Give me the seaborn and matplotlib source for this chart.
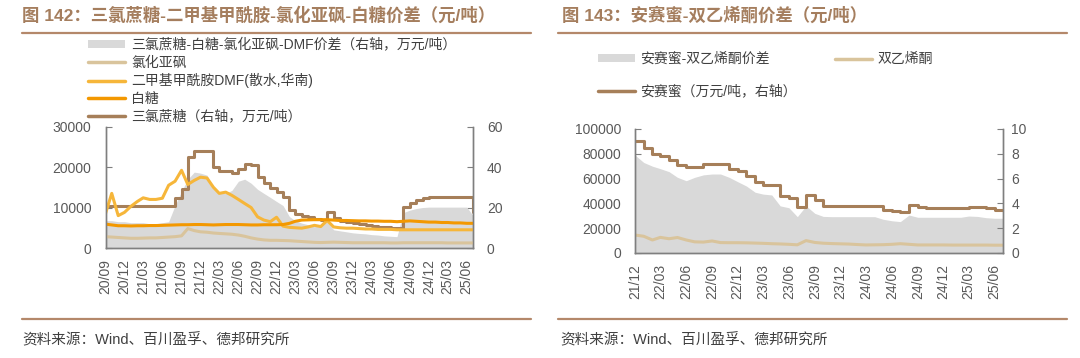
import matplotlib
matplotlib.use("Agg")
import matplotlib.pyplot as plt
import matplotlib.dates as mdates
from matplotlib.lines import Line2D
from matplotlib.patches import Patch
import seaborn as sns
import pandas as pd

sns.set_theme(style="white")
plt.rcParams['font.family'] = ['Liberation Sans', 'Noto Sans CJK SC', 'DejaVu Sans']
plt.rcParams['axes.unicode_minus'] = False

# ---- 图142 数据 (月度, 2020/09 - 2025/07) ----
months_142 = pd.date_range("2020-09-01", "2025-07-01", freq="MS")
sucralose = [21, 21, 21, 21, 21, 21, 21, 21, 21, 21, 21,
             24.5, 29, 45, 48, 48, 48, 40, 38, 38, 37,
             39, 41.5, 41, 35, 32, 29.5, 27.5, 25, 19, 17,
             16, 15.4, 14.5, 13.8, 18, 15, 13.5, 13, 12.5, 12,
             11.5, 11, 10.5, 10.2, 10, 9.8, 20.5, 22, 23.6, 24.5,
             25.3, 25.3, 25.3, 25.3, 25.3, 25.3, 25.3, 18]
spread_142 = [13.5, 13.5, 13, 13, 12.5, 12.5, 12.5, 12, 12, 12.5, 13,
              21, 28, 34, 37.5, 37, 36, 30, 27, 27, 28.5,
              33, 34, 32, 29, 27, 25, 23, 21, 15.5, 13.5,
              12.3, 11.5, 10.5, 11.5, 13, 9, 8.5, 8, 7.5, 7.2,
              7, 6.6, 6.4, 6, 5.8, 5.6, 17.5, 18.7, 19.5, 20,
              20.2, 20.2, 20.2, 20.2, 20.2, 20.2, 20.2, 16]
sugar = [5900, 5700, 5500, 5500, 5450, 5500, 5500, 5550, 5550, 5600, 5650,
         5700, 5750, 5750, 5800, 5800, 5750, 5700, 5750, 5800, 5800,
         5800, 5750, 5700, 5700, 5750, 5750, 5750, 5800, 6100, 6600,
         6900, 6950, 7000, 7000, 7000, 6900, 6800, 6800, 6750, 6700,
         6700, 6650, 6650, 6600, 6600, 6500, 6600, 6700, 6600, 6500,
         6400, 6400, 6300, 6300, 6200, 6200, 6100, 6100]
dmf = [8500, 13500, 8000, 8800, 10300, 11500, 12400, 12000, 12000, 12300, 15500,
       16500, 19200, 15700, 16700, 17500, 17300, 15000, 13500, 13800, 13000,
       12000, 11000, 10000, 7700, 6900, 6500, 7600, 5400, 5100, 5000,
       4900, 5200, 5600, 5300, 6800, 5200, 5000, 4900, 4900, 4800,
       4700, 4700, 4600, 4600, 4600, 4500, 4500, 4500, 4500, 4500,
       4500, 4500, 4500, 4500, 4500, 4500, 4500, 4500]
socl2 = [2800, 2700, 2600, 2500, 2400, 2400, 2450, 2500, 2500, 2600, 2700,
         2800, 3000, 4800, 4300, 4000, 3900, 3700, 3600, 3500, 3400,
         3200, 2900, 2500, 2200, 2000, 1900, 1900, 1850, 1800, 1700,
         1600, 1500, 1400, 1350, 1400, 1450, 1400, 1350, 1300, 1300,
         1300, 1300, 1300, 1300, 1250, 1250, 1300, 1300, 1300, 1300,
         1300, 1300, 1300, 1250, 1250, 1250, 1250, 1250]

# ---- 图143 数据 (月度, 2021/12 - 2025/07) ----
months_143 = pd.date_range("2021-12-01", "2025-07-01", freq="MS")
acesulfame = [9.0, 8.5, 8.0, 7.8, 7.5, 7.1, 6.96, 6.96, 7.15, 7.2,
              7.2, 6.8, 6.6, 6.2, 5.75, 5.5, 5.5, 4.6, 4.45, 3.7,
              4.7, 4.3, 3.75, 3.75, 3.75, 3.75, 3.75, 3.75, 3.75, 3.5,
              3.35, 3.3, 3.85, 3.7, 3.6, 3.6, 3.6, 3.6, 3.6, 3.73,
              3.73, 3.6, 3.47, 3.47]
spread_143 = [79000, 73000, 70000, 68000, 65600, 61000, 58300, 61000, 63000, 63700,
              63700, 61000, 57500, 54000, 49000, 47500, 46800, 38000, 36500, 29300,
              38000, 32000, 29500, 29300, 29300, 29300, 29300, 29300, 29300, 27200,
              26000, 25300, 30600, 28800, 28800, 28800, 28800, 28800, 28800, 29800,
              29500, 28500, 28000, 28000]
diketene = [14500, 13500, 10500, 12600, 11500, 12500, 10500, 9000, 8800, 9700,
            8400, 8300, 8300, 8200, 8000, 7800, 7500, 7300, 7000, 6600,
            10000, 8500, 7900, 7600, 7400, 7200, 6800, 6500, 6600, 6700,
            7000, 7500, 7000, 6500, 6500, 6500, 6500, 6400, 6400, 6400,
            6400, 6400, 6300, 6300]

GRAY = '#d9d9d9'
BEIGE = '#d9c49c'
YELLOW = '#f6b63a'
ORANGE = '#f39800'
BROWN = '#a67f59'
TITLE_C = '#a57e5e'
RULE_C = '#b4886a'
TICK_C = '#7f7f7f'
LABEL_C = '#595959'
LW = 2.2

fig = plt.figure(figsize=(10.8, 3.58), dpi=100)
W, H = 1080, 358


def fx(px):
    return px / W


def fy(py):
    return 1 - py / H


def style_axes(ax, ax2, right_pad):
    for a in (ax, ax2):
        a.spines['top'].set_visible(False)
        for s in ('left', 'right', 'bottom'):
            a.spines[s].set_color(TICK_C)
            a.spines[s].set_linewidth(1)
        a.tick_params(direction='in', length=4, width=0.8, color=TICK_C,
                      labelcolor=LABEL_C, labelsize=10)
        a.grid(False)
        a.set_xlabel('')
        a.set_ylabel('')
    ax.tick_params(axis='y', pad=10)
    ax.tick_params(axis='x', pad=8, labelrotation=90)
    ax2.tick_params(axis='y', pad=right_pad)
    ax.xaxis.set_major_locator(mdates.MonthLocator(bymonth=[3, 6, 9, 12]))
    ax.xaxis.set_major_formatter(mdates.DateFormatter('%y/%m'))


# ================= 图142 =================
ax1 = fig.add_axes([fx(105.5), fy(248), fx(473 - 105.5), (248 - 126.6) / H])
ax1r = ax1.twinx()
ax1.set_zorder(ax1r.get_zorder() + 1)
ax1.patch.set_visible(False)

ax1r.fill_between(months_142, spread_142, 0, color=GRAY, lw=0)
sns.lineplot(x=months_142, y=sucralose, ax=ax1r, color=BROWN, lw=LW,
             drawstyle='steps-post', estimator=None)
sns.lineplot(x=months_142, y=socl2, ax=ax1, color=BEIGE, lw=LW, estimator=None)
sns.lineplot(x=months_142, y=dmf, ax=ax1, color=YELLOW, lw=LW, estimator=None)
sns.lineplot(x=months_142, y=sugar, ax=ax1, color=ORANGE, lw=LW, estimator=None)

ax1.set_xlim(months_142[0], months_142[-1])
ax1.set_ylim(0, 30000)
ax1.set_yticks([0, 10000, 20000, 30000])
ax1r.set_ylim(0, 60)
ax1r.set_yticks([0, 20, 40, 60])
style_axes(ax1, ax1r, 10)

handles_142 = [
    Patch(facecolor=GRAY, edgecolor='none', label='三氯蔗糖-白糖-氯化亚砜-DMF价差（右轴，万元/吨）'),
    Line2D([], [], color=BEIGE, lw=2.5, label='氯化亚砜'),
    Line2D([], [], color=YELLOW, lw=2.5, label='二甲基甲酰胺DMF(散水,华南)'),
    Line2D([], [], color=ORANGE, lw=2.5, label='白糖'),
    Line2D([], [], color=BROWN, lw=2.5, label='三氯蔗糖（右轴，万元/吨）'),
]
fig.legend(handles=handles_142, loc='upper left', bbox_to_anchor=(fx(88), fy(38)),
           frameon=False, borderpad=0, borderaxespad=0, fontsize=10,
           handlelength=2.65, handleheight=0.5, handletextpad=0.45,
           labelspacing=0.25, labelcolor='#404040')

fig.text(fx(22), fy(15), '图 142：三氯蔗糖-二甲基甲酰胺-氯化亚砜-白糖价差（元/吨）',
         fontsize=12.5, fontweight='bold', color=TITLE_C, va='center')
fig.add_artist(Line2D([fx(22), fx(531)], [fy(33), fy(33)], color=RULE_C, lw=1.6))
fig.add_artist(Line2D([fx(22), fx(531)], [fy(319), fy(319)], color=RULE_C, lw=1.6))
fig.text(fx(22), fy(340), '资料来源：Wind、百川盈孚、德邦研究所',
         fontsize=10.5, color='#404040', va='center')

# ================= 图143 =================
ax2 = fig.add_axes([fx(635), fy(253), fx(1003 - 635), (253 - 129) / H])
ax2r = ax2.twinx()

ax2.fill_between(months_143, spread_143, 0, color=GRAY, lw=0)
sns.lineplot(x=months_143, y=diketene, ax=ax2, color=BEIGE, lw=LW, estimator=None)
sns.lineplot(x=months_143, y=acesulfame, ax=ax2r, color=BROWN, lw=LW,
             drawstyle='steps-post', estimator=None)

ax2.set_xlim(months_143[0], months_143[-1])
ax2.set_ylim(0, 100000)
ax2.set_yticks(range(0, 100001, 20000))
ax2r.set_ylim(0, 10)
ax2r.set_yticks(range(0, 11, 2))
style_axes(ax2, ax2r, 6)

handles_143 = [
    Patch(facecolor=GRAY, edgecolor='none', label='安赛蜜-双乙烯酮价差'),
    Line2D([], [], color=BROWN, lw=2.5, label='安赛蜜（万元/吨，右轴）'),
    Line2D([], [], color=BEIGE, lw=2.5, label='双乙烯酮'),
]
fig.legend(handles=handles_143, loc='upper left', bbox_to_anchor=(fx(598), fy(52)),
           ncol=2, frameon=False, borderpad=0, borderaxespad=0, fontsize=10,
           handlelength=2.65, handleheight=0.5, handletextpad=0.4,
           labelspacing=1.32, columnspacing=2.75, labelcolor='#404040')

fig.text(fx(562), fy(15), '图 143：安赛蜜-双乙烯酮价差（元/吨）',
         fontsize=12.5, fontweight='bold', color=TITLE_C, va='center')
fig.add_artist(Line2D([fx(558), fx(1067)], [fy(33), fy(33)], color=RULE_C, lw=1.6))
fig.add_artist(Line2D([fx(558), fx(1067)], [fy(319), fy(319)], color=RULE_C, lw=1.6))
fig.text(fx(560), fy(340), '资料来源：Wind、百川盈孚、德邦研究所',
         fontsize=10.5, color='#404040', va='center')

fig.savefig('out.png', dpi=100)
